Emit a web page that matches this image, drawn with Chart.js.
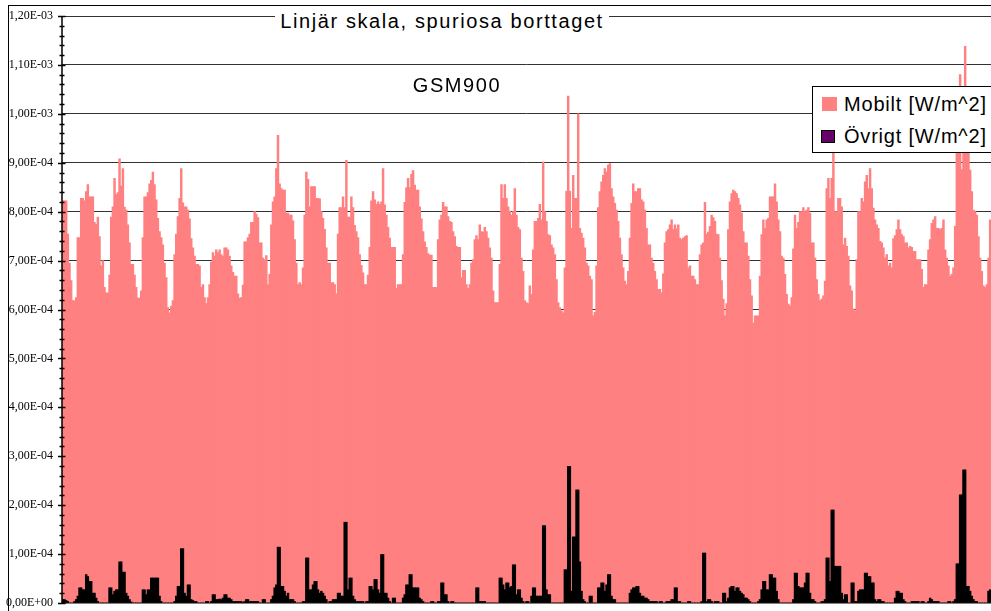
<!DOCTYPE html>
<html lang="sv">
<head>
<meta charset="UTF-8">
<title>GSM900 - Linjär skala, spuriosa borttaget</title>
<script src="https://cdn.jsdelivr.net/npm/chart.js"></script>
<style>
    body { margin: 0; background: #fff; font-family: 'Liberation Sans', Arial, sans-serif; color: #000; }
    .wrap { position: relative; width: 991px; height: 611px; overflow: hidden; }
    .frame { position: absolute; left: 8px; top: 5px; width: 1000px; height: 700px;
             border-left: 1px solid #000; border-top: 1px solid #000; }
    canvas { position: absolute; left: 0; top: 0; }
    .title { position: absolute; left: 275px; top: 8px; width: 334px; height: 26px; line-height: 26px;
             background: #fff; font-size: 20px; letter-spacing: 1.6px; text-align: center; white-space: nowrap; }
    .sub { position: absolute; left: 400px; top: 74px; width: 114px; font-size: 20px;
           letter-spacing: 1.6px; text-align: center; }
    .legend { position: absolute; left: 812px; top: 86px; width: 200px; height: 65px;
              background: #fff; border: 1px solid #000; }
    .legend .item { position: absolute; left: 31px; font-size: 20px; letter-spacing: 0.8px; white-space: nowrap; }
    .legend .box { position: absolute; }
</style>
</head>
<body>
<div class="wrap">
    <div class="frame"></div>
    <canvas id="chart" width="991" height="611"></canvas>
    <div class="title">Linjär skala, spuriosa borttaget</div>
    <div class="sub">GSM900</div>
    <div class="legend">
        <div class="box" style="left:9px; top:10px; width:15px; height:14px; background:#FF8080;"></div>
        <div class="item" style="top:6px;">Mobilt [W/m^2]</div>
        <div class="box" style="left:8px; top:43px; width:12px; height:11px; background:#660066; border:1.5px solid #000;"></div>
        <div class="item" style="top:38px;">Övrigt [W/m^2]</div>
    </div>
</div>

<script>
    // values in µW/m^2 (1e-6 W/m^2), read left to right from the plot
    const mobiltPart1 = [
        822, 822, 822, 754, 695, 659, 618, 618, 624, 747,
        747, 827, 827, 822, 841, 855, 830, 830, 830, 778,
        774, 789, 749, 689, 700, 645, 634, 634, 670, 789,
        810, 868, 835, 839, 908, 852, 888, 809, 803, 773,
        736, 692, 692, 670, 645, 623, 623, 638, 747, 830,
        830, 839, 857, 864, 881, 855, 824, 786, 759, 747,
        732, 695, 665, 604, 593, 607, 618, 712, 754, 790,
        827, 888, 818, 810, 810, 803, 785, 745, 726, 709,
        692, 692, 689, 645, 651, 624, 612, 624, 651, 697,
        716, 709, 722, 716, 722, 712, 709, 726, 726, 722,
        709, 689, 676, 668, 668, 632, 623, 624, 650, 738,
        738, 747, 754, 778, 778, 800, 795, 788, 736, 736,
        705, 702, 710, 651, 672, 773, 820, 830, 888, 956,
        857, 847, 844, 844, 797, 797, 793, 793, 781, 743,
        695, 651, 655, 651, 685, 793, 881, 866, 810, 851,
        851, 851, 827, 827, 826, 800, 786, 764, 726, 695
    ];
    const mobiltPart2 = [
        695, 655, 655, 651, 632, 754, 808, 808, 830, 808,
        905, 789, 789, 830, 808, 772, 759, 747, 712, 690,
        675, 651, 651, 670, 727, 822, 841, 824, 815, 820,
        815, 820, 888, 814, 793, 768, 746, 727, 727, 727,
        643, 651, 651, 651, 712, 819, 849, 868, 849, 876,
        884, 854, 844, 844, 810, 785, 759, 738, 727, 714,
        711, 711, 645, 645, 645, 743, 783, 793, 819, 810,
        810, 790, 780, 778, 759, 749, 729, 727, 727, 665,
        680, 680, 651, 643, 651, 695, 702, 743, 751, 743,
        773, 759, 758, 768, 759, 746, 726, 705, 638, 614,
        614, 614, 692, 855, 827, 855, 827, 810, 801, 793,
        800, 847, 793, 768, 763, 705, 678, 618, 614, 612,
        648, 631, 722, 780, 780, 786, 815, 783, 901, 800,
        780, 753, 751, 732, 726, 712, 661, 614, 604, 597,
        593, 685, 842, 1036, 842, 766, 874, 827, 827, 1000,
        766, 756, 746, 726, 695, 689, 668, 661, 587, 594,
        689, 808, 841, 861, 874, 888, 881, 895, 898, 847,
        830, 817, 803, 780, 746, 712, 685, 658, 651, 678,
        746, 817, 857, 841, 841, 847, 847, 824, 820, 803,
        766, 732, 732, 705, 695, 678, 661, 641
    ];
    const mobiltPart3 = [
        641, 634, 673, 736, 759, 763, 773, 783, 763, 773,
        765, 773, 746, 743, 746, 749, 751, 685, 689, 668,
        668, 661, 651, 651, 712, 732, 736, 819, 754, 758,
        770, 793, 788, 780, 754, 753, 705, 659, 621, 587,
        612, 763, 820, 837, 844, 841, 837, 827, 814, 797,
        759, 736, 736, 709, 661, 628, 572, 587, 587, 587,
        668, 753, 783, 766, 783, 786, 830, 830, 830, 857,
        820, 783, 759, 709, 705, 672, 631, 611, 607, 624,
        724, 793, 766, 778, 800, 800, 808, 800, 803, 808,
        797, 736, 736, 705, 661, 631, 618, 621, 628, 658,
        847, 868, 827, 868, 970, 800, 800, 827, 827, 810,
        732, 746, 729, 709, 648, 638, 601, 597, 702, 800,
        800, 827, 820, 861, 874, 847, 888, 847, 807, 783,
        773, 766, 739, 736, 726, 705, 712, 689, 695, 685,
        745, 751, 763, 783, 763, 753, 749, 736, 736, 726,
        729, 727, 719, 719, 702, 702, 702, 682, 645, 651,
        651, 722, 743, 776, 783, 790, 766, 766, 763, 766,
        783, 722, 705, 689, 668, 672, 685, 770, 945, 960,
        1080, 886, 960, 1138, 960, 940, 885, 841, 803, 800,
        793, 749, 705, 678, 648, 645, 651, 705, 783
    ];

    const ovrigtPart1 = [
        7, 7, 5, 3, 0, 0, 0, 3, 7, 14,
        31, 31, 27, 27, 58, 54, 44, 44, 20, 20,
        10, 3, 0, 0, 0, 0, 0, 0, 31, 31,
        17, 24, 27, 27, 84, 84, 63, 63, 20, 14,
        7, 2, 0, 0, 0, 0, 0, 0, 27, 27,
        17, 27, 27, 51, 51, 51, 51, 51, 14, 3,
        0, 0, 0, 0, 0, 0, 0, 3, 14, 34,
        34, 111, 111, 20, 14, 37, 37, 7, 5, 3,
        3, 0, 0, 0, 0, 0, 3, 3, 0, 3,
        17, 17, 7, 7, 8, 7, 10, 17, 17, 10,
        10, 7, 3, 3, 3, 3, 3, 3, 1, 3,
        7, 7, 3, 3, 3, 3, 3, 3, 0, 0,
        7, 7, 0, 0, 0, 7, 14, 31, 37, 114,
        114, 34, 34, 24, 14, 20, 7, 7, 7, 3,
        0, 0, 0, 0, 3, 3, 92, 92, 27, 27,
        37, 44, 44, 27, 20, 24, 20, 14, 7, 0
    ];
    const ovrigtPart2 = [
        3, 3, 7, 7, 7, 20, 20, 14, 14, 165,
        165, 27, 51, 51, 14, 7, 3, 3, 3, 3,
        3, 0, 3, 3, 34, 34, 27, 48, 48, 27,
        20, 99, 99, 20, 20, 10, 3, 0, 10, 10,
        0, 0, 0, 0, 10, 17, 37, 37, 58, 58,
        31, 31, 31, 31, 10, 7, 3, 0, 0, 0,
        0, 3, 3, 0, 0, 3, 3, 41, 41, 17,
        17, 3, 0, 3, 3, 0, 0, 0, 0, 0,
        0, 0, 0, 0, 0, 0, 0, 0, 31, 31,
        3, 3, 3, 3, 0, 0, 0, 0, 0, 0,
        0, 0, 51, 51, 37, 27, 41, 41, 31, 34,
        78, 78, 17, 27, 27, 10, 3, 0, 3, 3,
        0, 14, 31, 31, 14, 14, 14, 14, 158, 158,
        27, 17, 17, 0, 0, 0, 0, 0, 0, 0,
        0, 68, 68, 279, 279, 24, 135, 135, 231, 231,
        84, 24, 7, 3, 0, 0, 14, 14, 0, 0,
        0, 31, 31, 41, 41, 24, 37, 58, 58, 14,
        7, 7, 0, 0, 0, 0, 0, 0, 0, 0,
        20, 27, 31, 31, 34, 34, 20, 14, 14, 10,
        10, 7, 3, 3, 3, 3, 3, 0
    ];
    const ovrigtPart3 = [
        3, 3, 0, 0, 3, 3, 3, 7, 7, 31,
        31, 3, 3, 0, 0, 0, 0, 3, 3, 0,
        0, 0, 0, 0, 0, 3, 102, 102, 3, 7,
        7, 3, 0, 3, 3, 3, 0, 0, 20, 20,
        3, 10, 31, 34, 34, 24, 31, 31, 24, 20,
        17, 10, 10, 7, 3, 0, 0, 0, 0, 3,
        7, 27, 44, 44, 27, 27, 58, 58, 51, 51,
        24, 7, 0, 0, 0, 0, 0, 0, 0, 0,
        7, 61, 61, 34, 31, 31, 31, 41, 61, 61,
        20, 7, 7, 3, 0, 0, 0, 3, 3, 7,
        92, 92, 44, 190, 190, 75, 75, 75, 75, 20,
        7, 17, 17, 0, 0, 41, 41, 3, 3, 24,
        27, 27, 27, 61, 61, 54, 54, 41, 41, 7,
        3, 7, 7, 3, 3, 0, 0, 0, 0, 0,
        0, 10, 24, 24, 20, 20, 7, 3, 0, 0,
        0, 3, 3, 3, 3, 3, 0, 3, 3, 0,
        0, 3, 10, 7, 3, 3, 3, 3, 0, 0,
        0, 0, 0, 3, 3, 0, 3, 7, 80, 80,
        221, 221, 272, 272, 34, 34, 24, 14, 7, 3,
        3, 0, 0, 0, 0, 0, 0, 24, 27
    ];

    // y axis labels, one per 1e-4 W/m^2 (100 µW/m^2)
    const yTickLabels = ['0,00E+00', '1,00E-04', '2,00E-04', '3,00E-04', '4,00E-04', '5,00E-04', '6,00E-04',
        '7,00E-04', '8,00E-04', '9,00E-04', '1,00E-03', '1,10E-03', '1,20E-03'];

    const mobilt = [...mobiltPart1, ...mobiltPart2, ...mobiltPart3];
    const ovrigt = [...ovrigtPart1, ...ovrigtPart2, ...ovrigtPart3];
    const samples = mobilt.map((_, i) => i + 1);

    // y axis line, tick marks crossing the axis and grey base line, drawn on top of the bars
    const axisMarks = {
        id: 'axisMarks',
        afterDatasetsDraw(chart) {
            const { ctx, chartArea, scales: { y } } = chart;
            const x0 = chartArea.left;
            ctx.save();
            ctx.strokeStyle = '#808080';
            ctx.lineWidth = 1;
            ctx.beginPath();
            ctx.moveTo(x0, chartArea.bottom + 0.5);
            ctx.lineTo(chartArea.right, chartArea.bottom + 0.5);
            ctx.stroke();

            ctx.strokeStyle = '#000';
            ctx.lineWidth = 1.5;
            ctx.beginPath();
            ctx.moveTo(x0, chartArea.top);
            ctx.lineTo(x0, chartArea.bottom);
            y.ticks.forEach(t => {
                const py = Math.round(y.getPixelForValue(t.value)) + 0.5;
                const major = t.value % 100 === 0;
                ctx.moveTo(x0 - (major ? 4 : 2.5), py);
                ctx.lineTo(x0 + (major ? 3.5 : 2.5), py);
            });
            ctx.stroke();
            ctx.restore();
        }
    };

    new Chart(document.getElementById('chart'), {
        type: 'bar',
        data: {
            labels: samples,
            datasets: [
                {
                    label: 'Mobilt [W/m^2]',
                    data: mobilt,
                    backgroundColor: '#FF8080',
                    order: 2
                },
                {
                    label: 'Övrigt [W/m^2]',
                    data: ovrigt,
                    backgroundColor: '#000000',
                    order: 1
                }
            ]
        },
        options: {
            responsive: false,
            animation: false,
            events: [],
            devicePixelRatio: 1,
            datasets: {
                bar: {
                    grouped: false,
                    barPercentage: 1,
                    categoryPercentage: 1,
                    borderWidth: 0,
                    inflateAmount: 0.4
                }
            },
            layout: { padding: { top: 16, right: 0, bottom: 8, left: 0 } },
            plugins: {
                legend: { display: false },
                title: { display: false },
                tooltip: { enabled: false }
            },
            scales: {
                x: {
                    display: false
                },
                y: {
                    min: 0,
                    max: 1200,
                    border: { display: false },
                    ticks: {
                        stepSize: 20,
                        autoSkip: false,
                        padding: 9,
                        color: '#000',
                        font: { family: "'Liberation Serif', 'Times New Roman', serif", size: 12 },
                        callback: v => (v % 100 === 0 ? yTickLabels[v / 100] : '')
                    },
                    grid: {
                        drawTicks: false,
                        lineWidth: 1,
                        color: c => (c.tick && c.tick.value % 100 === 0 ? '#333333' : 'rgba(0,0,0,0)')
                    },
                    afterFit(scale) {
                        scale.width = 62;
                        scale.paddingTop = 0;
                        scale.paddingBottom = 0;
                    }
                }
            }
        },
        plugins: [axisMarks]
    });
</script>
</body>
</html>
